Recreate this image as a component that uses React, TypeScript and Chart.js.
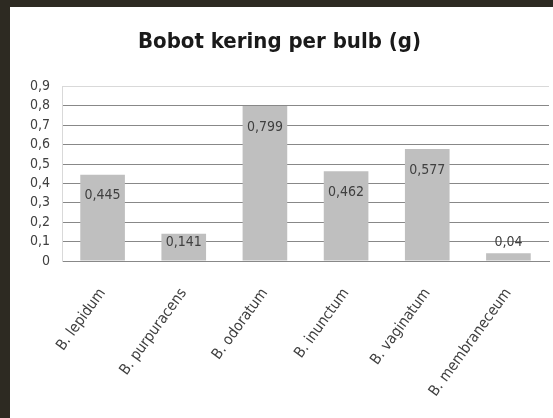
import React, { useEffect, useRef } from "react";
import { Chart, registerables } from "chart.js";

Chart.register(...registerables);

const categories = [
  "B. lepidum",
  "B. purpuracens",
  "B. odoratum",
  "B. inunctum",
  "B. vaginatum",
  "B. membraneceum",
];
const values = [0.445, 0.141, 0.799, 0.462, 0.577, 0.04];
const yMin = 0;
const yMax = 0.9;
const yStep = 0.1;
const titleText = "Bobot kering per bulb (g)";

const FONT = "'DejaVu Sans Condensed', 'Liberation Sans Narrow', sans-serif";

const fmt = (v: number) => (Math.abs(v) < 1e-9 ? "0" : String(v).replace(".", ","));

const labelPlugin = {
  id: "barValueLabels",
  afterDatasetsDraw(chart: any) {
    const ctx = chart.ctx;
    const meta = chart.getDatasetMeta(0);
    ctx.save();
    ctx.font = `14px ${FONT}`;
    ctx.fillStyle = "#404040";
    ctx.textAlign = "center";
    ctx.textBaseline = "middle";
    meta.data.forEach((bar: any, i: number) => {
      const h = bar.base - bar.y;
      let cy;
      if (h > 50) cy = bar.y + 21;
      else if (h > 20) cy = bar.y + 9;
      else cy = bar.y - 11;
      ctx.fillText(fmt(values[i]), bar.x, cy);
    });
    ctx.restore();
  },
};

export default function App() {
  const ref = useRef<HTMLCanvasElement | null>(null);
  useEffect(() => {
    document.body.style.margin = "0";
    if (!ref.current) return;
    const chart = new Chart(ref.current, {
      type: "bar",
      data: {
        labels: categories,
        datasets: [
          {
            data: values,
            backgroundColor: "#bfbfbf",
            borderWidth: 0,
            barPercentage: 0.55,
            categoryPercentage: 1,
          },
        ],
      },
      options: {
        animation: false,
        responsive: false,
        devicePixelRatio: 1,
        layout: { padding: { left: 0, right: 4, top: 0, bottom: 0 } },
        plugins: {
          legend: { display: false },
          tooltip: { enabled: false },
          title: {
            display: true,
            text: titleText,
            color: "#1a1a1a",
            font: { family: FONT, size: 22, weight: "bold" },
            padding: { top: 22, bottom: 31 },
          },
        },
        scales: {
          x: {
            grid: { display: false, drawTicks: false },
            border: { display: true, color: "#888888", width: 1 },
            ticks: {
              color: "#404040",
              font: { family: FONT, size: 15 },
              minRotation: 54,
              maxRotation: 54,
              padding: 24,
              autoSkip: false,
            },
            afterFit(scale: any) {
              scale.height = 157;
            },
          },
          y: {
            min: yMin,
            max: yMax,
            grid: {
              drawTicks: false,
              color: (c: any) =>
                c.tick && Math.abs(c.tick.value - yMax) < 1e-6 ? "#d9d9d9" : "#888888",
              lineWidth: 1,
            },
            border: { display: true, color: "#d9d9d9", width: 1 },
            ticks: {
              stepSize: yStep,
              autoSkip: false,
              color: "#404040",
              font: { family: FONT, size: 14 },
              padding: 12,
              callback: (v: any) => fmt(Math.round(Number(v) * 10) / 10),
            },
            afterFit(scale: any) {
              scale.width = 52;
            },
          },
        },
      },
      plugins: [labelPlugin],
    });
    return () => chart.destroy();
  }, []);
  return (
    <div style={{ width: 553, height: 418, background: "#2d2a22", position: "relative", overflow: "hidden" }}>
      <div style={{ position: "absolute", left: 10, top: 7, width: 543, height: 411, background: "#ffffff" }}>
        <canvas ref={ref} width={543} height={411} style={{ display: "block" }} />
      </div>
    </div>
  );
}
